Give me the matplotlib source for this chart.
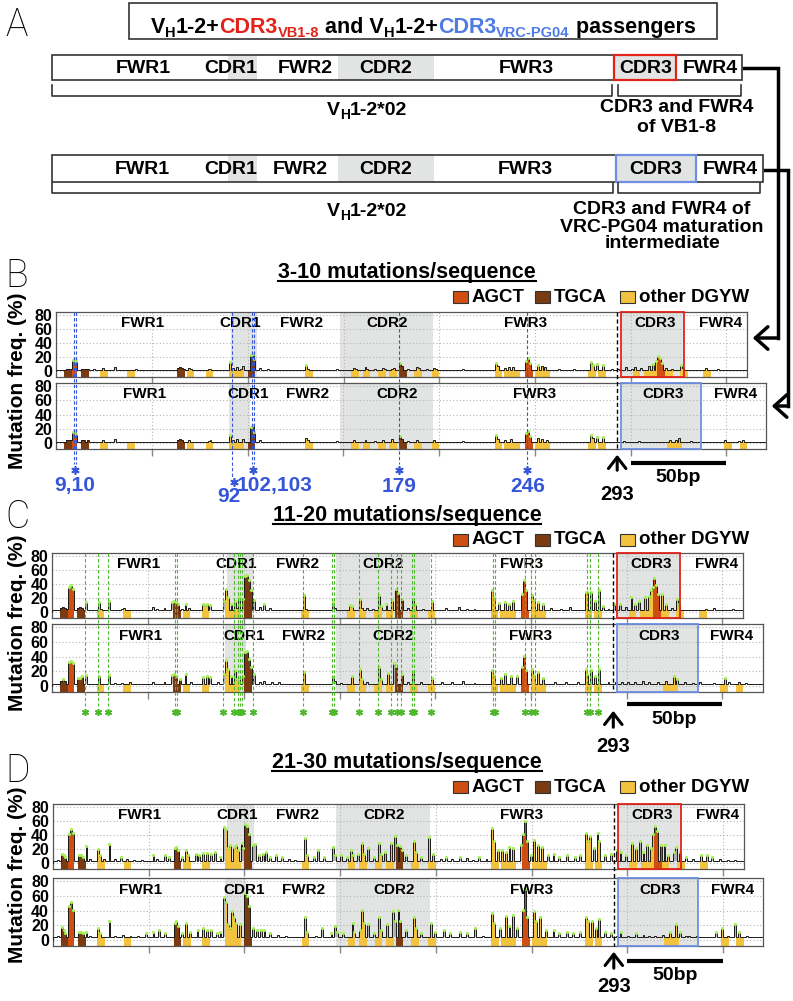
import numpy as np
import matplotlib
matplotlib.use('Agg')
import matplotlib.pyplot as plt
from matplotlib.patches import Rectangle, FancyArrowPatch
from matplotlib.lines import Line2D
import matplotlib.transforms as mtrans

plt.rcParams['font.family'] = ['Liberation Sans', 'DejaVu Sans']
plt.rcParams['font.weight'] = 'bold'

# ======================= DATA =======================
regions = ['FWR1', 'CDR1', 'FWR2', 'CDR2', 'FWR3', 'CDR3', 'FWR4']
label_x_vb18 = [45, 96, 128, 173, 245, 313, 347]
label_x_pg04 = [46, 100, 131, 178, 250, 317, 355]
len_vb18 = 361
len_pg04 = 371
cdr1_vb18 = (91, 105)
cdr1_pg04 = (90, 101)
cdr2 = (148, 197)
cdr3_vb18 = (295, 328)
cdr3_pg04 = (295, 337)
v_end = 293
scale_bar = (300, 350)
xticks = [50, 100, 150, 200, 250, 300, 350]
yticks = [0, 20, 40, 60, 80]

# hotspot motif start positions (4 bp each)
agct_v = [7, 245]
tgca_v = [4, 13, 63, 100, 179]
dgyw_v = [23, 37, 68, 78, 90, 94, 130, 154, 160, 168, 174, 187, 196, 229, 234, 238,
          250, 254, 278, 283]
agct_vb18_cdr3 = [314]
dgyw_vb18_cdr3 = [301, 307, 310, 318, 326, 338]
dgyw_pg04_cdr3 = [319, 323, 349, 357]

baseline_B, baseline_C, baseline_D = 1.5, 3.0, 4.0

peaks_B_vb18 = [(5, 4), (6, 4), (7, 4), (8, 15), (9, 16), (10, 13), (13, 4), (14, 4), (15, 3), (16, 4),
    (19, 3), (24, 5), (30, 6), (36, 2), (41, 3), (44, 2), (60, 2), (63, 5), (64, 6), (65, 5), (66, 4),
    (69, 5), (70, 4), (76, 2), (79, 4), (80, 3), (86, 2), (90, 12), (92, 5), (94, 6), (96, 4), (97, 7),
    (101, 22), (102, 24), (103, 16), (106, 5), (110, 3), (114, 2), (130, 8), (131, 4), (140, 2),
    (146, 3), (150, 2), (155, 5), (156, 4), (161, 6), (162, 4), (166, 3), (170, 5), (171, 4), (175, 4),
    (176, 5), (179, 10), (180, 7), (183, 4), (188, 6), (189, 5), (193, 3), (197, 5), (198, 4), (205, 2),
    (212, 3), (220, 2), (229, 11), (230, 7), (234, 5), (236, 6), (238, 6), (245, 14), (246, 17),
    (247, 10), (251, 8), (253, 7), (255, 6), (262, 3), (270, 3), (279, 12), (280, 8), (282, 9),
    (285, 8), (290, 3), (293, 4), (297, 6), (300, 3), (302, 6), (305, 5), (309, 7), (311, 9), (313, 13),
    (314, 20), (315, 18), (316, 10), (318, 5), (321, 3), (326, 8), (327, 5), (333, 2), (339, 5),
    (345, 3), (350, 2)]
peaks_B_pg04 = [(5, 4), (6, 5), (7, 4), (8, 14), (9, 16), (10, 12), (13, 4), (14, 4), (16, 4), (24, 5),
    (30, 6), (41, 2), (63, 5), (64, 6), (65, 5), (69, 4), (79, 3), (80, 4), (90, 11), (92, 5), (94, 6),
    (97, 6), (101, 22), (102, 24), (103, 15), (106, 4), (110, 2), (130, 7), (131, 4), (146, 3),
    (155, 5), (161, 5), (166, 3), (170, 4), (175, 6), (179, 9), (180, 6), (183, 3), (188, 5), (197, 4),
    (212, 3), (229, 10), (230, 6), (234, 5), (237, 6), (245, 13), (246, 16), (247, 9), (251, 7),
    (253, 6), (256, 5), (279, 10), (280, 7), (282, 8), (285, 8), (290, 2), (296, 3), (304, 3),
    (312, 2), (320, 4), (323, 5), (325, 7), (331, 3), (334, 2), (349, 5), (356, 3), (358, 5)]
peaks_C_vb18 = [(4, 6), (5, 7), (6, 6), (7, 5), (8, 35), (9, 37), (10, 32), (13, 6), (14, 7), (15, 6),
    (17, 13), (20, 4), (24, 14), (25, 5), (29, 15), (32, 4), (36, 5), (37, 6), (40, 4), (44, 3),
    (48, 3), (52, 7), (54, 5), (58, 6), (62, 14), (63, 15), (64, 14), (65, 10), (67, 5), (69, 11),
    (71, 6), (74, 4), (78, 10), (79, 9), (80, 10), (82, 9), (86, 4), (89, 15), (90, 32), (91, 20),
    (93, 10), (95, 15), (96, 6), (97, 20), (99, 17), (100, 50), (101, 52), (102, 45), (103, 30),
    (105, 16), (108, 7), (110, 10), (113, 6), (117, 4), (121, 3), (131, 24), (132, 5), (138, 3),
    (142, 4), (146, 14), (147, 6), (150, 4), (155, 9), (156, 8), (160, 18), (161, 6), (164, 6),
    (167, 5), (170, 24), (171, 8), (174, 10), (177, 16), (179, 32), (180, 26), (182, 18), (185, 6),
    (188, 18), (189, 10), (193, 5), (198, 15), (201, 4), (205, 6), (208, 4), (212, 7), (216, 5),
    (220, 5), (224, 4), (229, 30), (230, 20), (233, 12), (236, 13), (238, 10), (240, 15), (245, 25),
    (246, 44), (247, 30), (250, 24), (251, 16), (253, 13), (256, 10), (260, 6), (265, 5), (270, 7),
    (274, 4), (278, 28), (279, 27), (281, 28), (283, 15), (285, 30), (287, 8), (290, 5), (293, 10),
    (296, 10), (299, 7), (302, 20), (304, 10), (306, 15), (309, 20), (311, 22), (312, 30), (313, 35),
    (314, 47), (315, 38), (316, 25), (318, 25), (320, 10), (323, 6), (326, 17), (327, 10), (331, 4),
    (336, 3), (341, 5), (345, 6), (350, 4), (355, 5), (360, 4)]
peaks_C_pg04 = [(4, 7), (5, 8), (6, 7), (8, 32), (9, 33), (10, 30), (13, 10), (14, 10), (15, 12),
    (17, 14), (24, 12), (29, 14), (32, 4), (36, 4), (40, 5), (48, 3), (52, 6), (58, 5), (62, 14),
    (63, 15), (64, 13), (66, 8), (69, 15), (72, 6), (78, 11), (80, 12), (82, 11), (86, 5), (89, 15),
    (90, 34), (91, 22), (93, 12), (95, 20), (96, 8), (97, 10), (99, 12), (100, 45), (101, 46),
    (102, 35), (103, 25), (105, 15), (108, 6), (110, 7), (114, 6), (118, 5), (131, 18), (138, 3),
    (146, 12), (147, 7), (150, 4), (156, 12), (160, 22), (161, 8), (164, 5), (170, 25), (171, 8),
    (175, 17), (178, 30), (179, 26), (182, 15), (185, 6), (188, 18), (192, 5), (198, 10), (203, 5),
    (208, 5), (214, 7), (220, 4), (229, 20), (230, 14), (234, 10), (236, 15), (239, 12), (242, 13),
    (245, 25), (246, 40), (247, 20), (250, 22), (251, 14), (253, 18), (256, 10), (262, 6), (268, 5),
    (274, 5), (278, 22), (279, 15), (281, 20), (283, 12), (285, 22), (290, 6), (294, 5), (297, 6),
    (300, 5), (304, 5), (308, 7), (311, 5), (316, 6), (320, 7), (324, 12), (326, 8), (330, 5),
    (334, 4), (338, 5), (345, 4), (351, 10), (353, 5), (358, 5), (362, 4), (366, 3)]
peaks_D_vb18 = [(2, 5), (4, 12), (5, 10), (6, 8), (8, 40), (9, 47), (10, 42), (13, 11), (14, 10),
    (15, 8), (17, 24), (19, 6), (23, 19), (24, 10), (26, 6), (29, 26), (32, 6), (35, 8), (38, 6),
    (42, 5), (46, 5), (48, 4), (52, 10), (54, 6), (58, 10), (60, 8), (63, 20), (64, 22), (65, 18),
    (67, 8), (69, 18), (70, 10), (74, 12), (76, 10), (78, 14), (80, 13), (82, 12), (84, 15), (87, 8),
    (89, 50), (90, 48), (91, 20), (92, 25), (94, 22), (95, 25), (96, 18), (98, 28), (99, 20),
    (100, 55), (101, 52), (102, 40), (104, 25), (105, 26), (107, 10), (109, 12), (111, 15), (113, 8),
    (116, 10), (119, 8), (123, 6), (126, 5), (131, 35), (132, 10), (136, 8), (138, 18), (141, 8),
    (146, 22), (147, 10), (150, 10), (153, 8), (155, 18), (156, 10), (159, 12), (161, 28), (162, 12),
    (164, 20), (167, 8), (170, 28), (171, 12), (173, 15), (176, 27), (178, 38), (179, 25), (181, 23),
    (182, 18), (184, 10), (188, 30), (189, 15), (192, 8), (196, 36), (198, 12), (202, 6), (205, 8),
    (208, 6), (212, 8), (216, 7), (219, 5), (222, 8), (226, 6), (229, 49), (230, 30), (232, 18),
    (234, 18), (236, 15), (238, 22), (240, 20), (244, 25), (245, 40), (246, 59), (247, 30), (249, 10),
    (251, 32), (253, 25), (255, 22), (258, 10), (261, 12), (264, 8), (268, 10), (272, 8), (275, 10),
    (278, 42), (279, 30), (280, 38), (282, 20), (284, 42), (285, 30), (288, 10), (291, 12), (294, 18),
    (296, 15), (299, 10), (302, 28), (304, 20), (306, 30), (308, 15), (310, 25), (312, 20), (313, 40),
    (314, 52), (315, 45), (317, 25), (319, 25), (321, 10), (324, 15), (325, 22), (327, 15), (330, 8),
    (334, 6), (338, 10), (341, 10), (344, 8), (348, 6), (352, 5), (356, 5), (360, 4)]
peaks_D_pg04 = [(2, 5), (4, 17), (5, 12), (6, 9), (8, 45), (9, 50), (10, 40), (13, 10), (14, 10),
    (15, 8), (17, 10), (19, 6), (23, 15), (24, 8), (29, 25), (32, 6), (36, 7), (40, 6), (44, 5),
    (48, 8), (52, 10), (55, 12), (58, 8), (63, 22), (64, 25), (65, 18), (67, 8), (69, 22), (71, 10),
    (75, 12), (78, 15), (80, 12), (82, 12), (85, 8), (87, 10), (89, 57), (90, 50), (91, 20), (92, 15),
    (93, 38), (94, 30), (95, 22), (97, 20), (100, 62), (101, 58), (102, 45), (104, 15), (106, 12),
    (108, 12), (110, 13), (113, 8), (117, 7), (121, 5), (131, 30), (132, 10), (137, 6), (140, 15),
    (145, 8), (147, 18), (148, 10), (151, 8), (156, 22), (157, 10), (160, 12), (161, 40), (162, 22),
    (164, 20), (167, 8), (170, 30), (171, 12), (174, 20), (177, 38), (178, 25), (180, 40), (181, 25),
    (184, 12), (188, 30), (189, 15), (192, 8), (197, 22), (199, 10), (204, 12), (207, 8), (212, 10),
    (216, 8), (220, 15), (224, 6), (229, 35), (230, 22), (233, 15), (236, 32), (238, 18), (240, 33),
    (242, 15), (245, 40), (246, 68), (247, 30), (251, 38), (252, 25), (254, 30), (257, 12), (261, 12),
    (264, 8), (268, 10), (271, 8), (275, 10), (278, 30), (279, 25), (281, 25), (283, 15), (285, 28),
    (288, 10), (291, 8), (294, 6), (296, 10), (300, 6), (304, 8), (308, 7), (311, 5), (314, 6),
    (318, 7), (322, 10), (325, 20), (327, 10), (330, 6), (332, 5), (336, 5), (340, 4), (346, 10),
    (349, 15), (352, 6), (356, 20), (358, 10), (362, 5), (366, 4)]

blue_sites = [9, 10, 92, 102, 103, 179, 246]
blue_labels = ['9,10', '92', '102,103', '179', '246']
blue_label_at = [9.5, 90, 114, 179, 246]
blue_star_at = [9.5, 93, 102.5, 179, 246]
green_sites = [17, 24, 29, 64, 65, 89, 95, 97, 98, 99, 105, 131, 146, 147, 160, 170, 177, 180,
               182, 188, 189, 198, 230, 231, 247, 250, 252, 279, 281, 285]
legend_labels = ['AGCT', 'TGCA', 'other DGYW']
panel_titles = ['3-10 mutations/sequence', '11-20 mutations/sequence', '21-30 mutations/sequence']

# ======================= STYLE / LAYOUT =======================
W, H = 793, 1001
C_AGCT, C_TGCA, C_DGYW = '#cf4f12', '#7a3b11', '#f3c33f'
RED, BLUE_BOX, BLUE_TXT, GREEN = '#e2231a', '#6e8fe3', '#3556d8', '#4cb82a'
TITLE_BLUE = '#4f7be6'
SHADE = '#e2e4e4'
PXBP = 1.914
YMIN, YMAX = -8, 84
legend_colors = [C_AGCT, C_TGCA, C_DGYW]
STAR = (6, 2, 0)   # asterisk marker

fig = plt.figure(figsize=(W / 100, H / 100), dpi=100)
pix = mtrans.Affine2D().scale(1 / W, -1 / H).translate(0, 1) + fig.transFigure
renderer = fig.canvas.get_renderer()


def fx(x):
    return x / W


def fy(y):
    return 1 - y / H


def make_profile(n, base, peaks):
    v = np.full(n, base, dtype=float)
    for p, h in peaks:
        if 0 <= p < n:
            v[p] = h
    return v


def track(left, top, bottom, n, peaks, base, motifs, cdr1, cdr3, boxcol, label_x):
    ax = fig.add_axes([fx(left), fy(bottom), n * PXBP / W, (bottom - top) / H])
    vals = make_profile(n, base, peaks)
    edges = np.arange(n + 1)
    ax.set_xlim(0, n)
    ax.set_ylim(YMIN, YMAX)
    for a, b in [cdr1, cdr2, cdr3]:
        ax.axvspan(a, b, color=SHADE, zorder=0, lw=0)
    ax.set_axisbelow(True)
    ax.grid(True, ls=(0, (1, 2)), color='#b5b5b5', lw=0.8)
    ax.stairs(vals, edges, baseline=base, fill=True, color='#8a8a8a', alpha=0.6, zorder=1.5)
    for starts, col in motifs:
        for s in starts:
            if s + 4 <= n:
                ax.stairs(vals[s:s + 4], edges[s:s + 5], baseline=YMIN, fill=True,
                          color=col, lw=0, zorder=2)
    ax.stairs(vals, edges, color='#1a1a1a', lw=0.7, zorder=3)
    pk = [(p, h) for p, h in peaks if h >= 8]
    ax.plot([p + 0.5 for p, h in pk], [h + 1.2 for p, h in pk], 'o', ms=2.3,
            color='#a8f05a', mec='none', zorder=4)
    ax.add_patch(Rectangle((cdr3[0], YMIN), cdr3[1] - cdr3[0], YMAX - YMIN, fill=False,
                           ec=boxcol, lw=1.3, zorder=5, clip_on=False))
    for name, x in zip(regions, label_x):
        ax.text(x, 68, name, ha='center', va='center', fontsize=11, fontweight='bold', zorder=6)
    ax.set_xticks(xticks)
    ax.set_xticklabels([])
    ax.tick_params(axis='x', length=5, direction='out', color='#888888', width=1)
    ax.set_yticks(yticks)
    ax.set_yticklabels([str(t) for t in yticks], fontsize=11.5, fontweight='bold')
    ax.tick_params(axis='y', length=0, pad=3)
    for sp in ax.spines.values():
        sp.set_color('#555555')
        sp.set_linewidth(0.9)
    return ax


def blend(ax):
    return mtrans.blended_transform_factory(ax.transData, fig.transFigure)


def fig_line(xs, ys, tr, **kw):
    fig.add_artist(Line2D(xs, ys, transform=tr, **kw))


def rich(xc, ybase, pieces):
    objs, widths = [], []
    for s, size, color, dy in pieces:
        t = fig.text(0, 0, s, fontsize=size, color=color, fontweight='bold',
                     va='baseline', ha='left')
        objs.append((t, dy))
        widths.append(t.get_window_extent(renderer).width)
    x = xc - sum(widths) / 2
    for (t, dy), w in zip(objs, widths):
        t.set_position((fx(x), fy(ybase + dy)))
        x += w


def legend(yc):
    for xs, lab, col in zip([453, 535, 620], legend_labels, legend_colors):
        fig.add_artist(Rectangle((xs, yc - 6), 15, 12, transform=pix, fc=col, ec='#333333', lw=0.8))
        fig.text(fx(xs + 19), fy(yc), lab, fontsize=13.5, fontweight='bold', va='center', ha='left')


def panel_title(text, ybase):
    t = fig.text(fx(407), fy(ybase), text, fontsize=15.5, fontweight='bold', ha='center', va='baseline')
    bb = t.get_window_extent(renderer)
    fig_line([fx(bb.x0), fx(bb.x1)], [fy(ybase + 3)] * 2, fig.transFigure, color='k', lw=1.5)


# ======================= PANEL A =======================
fig.text(fx(5), fy(25), 'A', fontsize=27, fontweight='light', family=['Roboto', 'Liberation Sans'],
         va='center', ha='left')
fig.add_artist(Rectangle((129, 3), 588, 36, transform=pix, fill=False, ec='#333333', lw=1.2))
S, s = 15.5, 10.5
rich(423, 33, [('V', S, 'k', 0), ('H', s, 'k', 4), ('1-2+', S, 'k', 0), ('CDR3', S, RED, 0),
               ('VB1-8', s, RED, 4), (' and V', S, 'k', 0), ('H', s, 'k', 4), ('1-2+', S, 'k', 0),
               ('CDR3', S, TITLE_BLUE, 0), ('VRC-PG04', s, TITLE_BLUE, 4), (' passengers', S, 'k', 0)])

bar_label_px = [[143, 231, 305, 386, 526, 646, 710], [142, 231, 300, 386, 525, 656, 730]]
bars = [dict(top=55, bot=80, right=742, box=(614, 676), boxcol=RED, b1=612, b2=(618, 741), bt=85, bb=96),
        dict(top=155, bot=182, right=763, box=(616, 696), boxcol=BLUE_BOX, b1=613, b2=(618, 760), bt=183, bb=193)]
for bar, lpx in zip(bars, bar_label_px):
    t, b = bar['top'], bar['bot']
    fig.add_artist(Rectangle((228, t), 29, b - t, transform=pix, fc=SHADE, lw=0))
    fig.add_artist(Rectangle((338, t), 96, b - t, transform=pix, fc=SHADE, lw=0))
    fig.add_artist(Rectangle((bar['box'][0], t), bar['box'][1] - bar['box'][0], b - t,
                             transform=pix, fc=SHADE, lw=0))
    fig.add_artist(Rectangle((52, t), bar['right'] - 52, b - t, transform=pix, fill=False,
                             ec='#333333', lw=1.2))
    fig.add_artist(Rectangle((bar['box'][0], t), bar['box'][1] - bar['box'][0], b - t,
                             transform=pix, fill=False, ec=bar['boxcol'], lw=1.6))
    for name, x in zip(regions, lpx):
        fig.text(fx(x), fy((t + b) / 2 + 1), name, fontsize=14, fontweight='bold',
                 ha='center', va='center')
    fig_line([52, 52, bar['b1'], bar['b1']], [bar['bt'], bar['bb'], bar['bb'], bar['bt']],
             pix, color='#333333', lw=1.2)
    x0, x1 = bar['b2']
    fig_line([x0, x0, x1, x1], [bar['bt'], bar['bb'], bar['bb'], bar['bt']],
             pix, color='#333333', lw=1.2)

rich(367, 115, [('V', 14, 'k', 0), ('H', 10, 'k', 4), ('1-2*02', 14, 'k', 0)])
rich(367, 216, [('V', 14, 'k', 0), ('H', 10, 'k', 4), ('1-2*02', 14, 'k', 0)])
for txt, y in [('CDR3 and FWR4', 108), ('of VB1-8', 128)]:
    fig.text(fx(677), fy(y), txt, fontsize=14, fontweight='bold', ha='center', va='center')
for txt, y in [('CDR3 and FWR4 of', 210), ('VRC-PG04 maturation', 227), ('intermediate', 244)]:
    fig.text(fx(662), fy(y), txt, fontsize=14, fontweight='bold', ha='center', va='center')

# connector arrows
fig_line([744, 778, 778], [68, 68, 338], pix, color='k', lw=2.5, solid_joinstyle='miter')
fig.add_artist(FancyArrowPatch((779, 338), (750, 338), transform=pix,
                               arrowstyle='->,head_length=0.5,head_width=0.45',
                               mutation_scale=18, lw=2.5, color='k'))
fig_line([765, 788, 788], [170, 170, 406], pix, color='k', lw=2.5, solid_joinstyle='miter')
fig.add_artist(FancyArrowPatch((789, 406), (769, 406), transform=pix,
                               arrowstyle='->,head_length=0.5,head_width=0.45',
                               mutation_scale=18, lw=2.5, color='k'))

# ======================= PANELS B, C, D =======================
motifs_vb18 = [(dgyw_v + dgyw_vb18_cdr3, C_DGYW), (agct_v + agct_vb18_cdr3, C_AGCT), (tgca_v, C_TGCA)]
motifs_pg04 = [(dgyw_v + dgyw_pg04_cdr3, C_DGYW), (agct_v, C_AGCT), (tgca_v, C_TGCA)]

panels = [
    dict(letter='B', ly=276, left=56.4, top=(312, 377), bot=(383, 449), title_y=278, leg=297,
         pk=(peaks_B_vb18, peaks_B_pg04), base=baseline_B,
         arrow=(473, 452), lab293=495, bar_y=463, bp_y=478),
    dict(letter='C', ly=517, left=52.5, top=(553, 618), bot=(624, 692), title_y=521, leg=540,
         pk=(peaks_C_vb18, peaks_C_pg04), base=baseline_C,
         arrow=(730, 708), lab293=746, bar_y=704, bp_y=719),
    dict(letter='D', ly=771, left=53, top=(804, 869), bot=(878, 946), title_y=768, leg=787,
         pk=(peaks_D_vb18, peaks_D_pg04), base=baseline_D,
         arrow=(971, 949), lab293=986, bar_y=961, bp_y=975),
]

for P, title in zip(panels, panel_titles):
    fig.text(fx(5), fy(P['ly']), P['letter'], fontsize=27, fontweight='light',
             family=['Roboto', 'Liberation Sans'], va='center', ha='left')
    panel_title(title, P['title_y'])
    legend(P['leg'])
    axt = track(P['left'], P['top'][0], P['top'][1], len_vb18, P['pk'][0], P['base'], motifs_vb18,
                cdr1_vb18, cdr3_vb18, RED, label_x_vb18)
    axb = track(P['left'], P['bot'][0], P['bot'][1], len_pg04, P['pk'][1], P['base'], motifs_pg04,
                cdr1_pg04, cdr3_pg04, BLUE_BOX, label_x_pg04)
    yc = (P['top'][0] + P['bot'][1]) / 2
    fig.text(fx(18), fy(yc), 'Mutation freq. (%)', rotation=90, fontsize=15, fontweight='bold',
             ha='center', va='center')
    tr = blend(axt)
    # end of V gene
    fig_line([v_end, v_end], [fy(P['top'][0]), fy(P['bot'][1])], tr, color='k', lw=1.0, ls=(0, (3, 2)))
    fig.add_artist(FancyArrowPatch((v_end, fy(P['arrow'][0])), (v_end, fy(P['arrow'][1])), transform=tr,
                                   arrowstyle='->,head_length=0.45,head_width=0.35',
                                   mutation_scale=18, lw=2.2, color='k'))
    fig.text(v_end, fy(P['lab293']), str(v_end), transform=tr, fontsize=14.5, fontweight='bold',
             ha='center', va='center')
    fig_line(list(scale_bar), [fy(P['bar_y'])] * 2, tr, color='k', lw=3, solid_capstyle='butt')
    fig.text(sum(scale_bar) / 2, fy(P['bp_y']), '%dbp' % (scale_bar[1] - scale_bar[0]), transform=tr,
             fontsize=14, fontweight='bold', ha='center', va='center')

    if P['letter'] == 'B':
        for x in blue_sites:
            yend = 477 if x == 92 else 464
            fig_line([x, x], [fy(P['top'][0]), fy(yend)], tr, color=BLUE_TXT, lw=0.8, ls=(0, (3, 2)))
        for lab, xl, xs in zip(blue_labels, blue_label_at, blue_star_at):
            ys, yl = (482, 497) if lab == '92' else (470, 486)
            fig_line([xs], [fy(ys)], tr, marker=STAR, ms=6, mew=1.2, color=BLUE_TXT, ls='none')
            fig.text(xl, fy(yl), lab, transform=tr, fontsize=15, color=BLUE_TXT, fontweight='bold',
                     ha='center', va='center')
    if P['letter'] == 'C':
        for x in green_sites:
            fig_line([x, x], [fy(P['top'][0]), fy(706)], tr, color=GREEN, lw=0.8, ls=(0, (3, 2)))
        fig_line(green_sites, [fy(712)] * len(green_sites), tr, marker=STAR, ms=5, mew=1.1,
                 color=GREEN, ls='none')

fig.savefig('out.png', dpi=100)
